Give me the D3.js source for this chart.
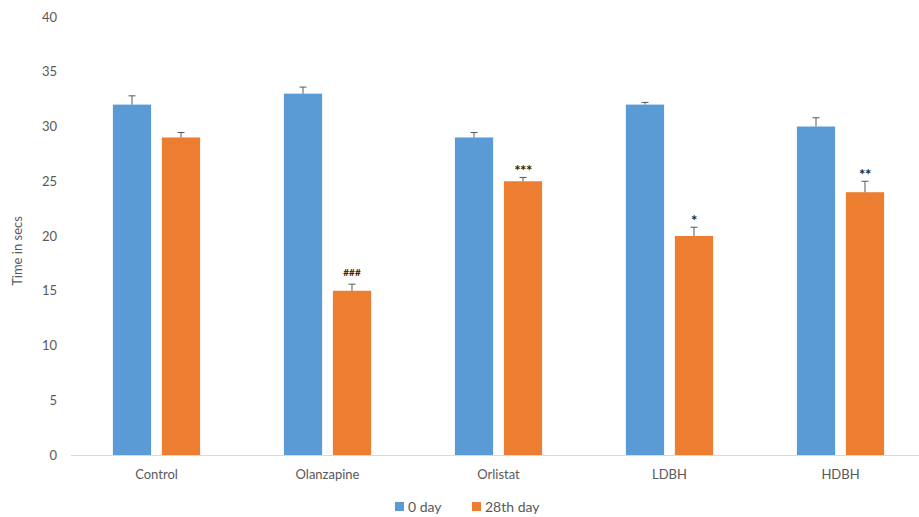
<!DOCTYPE html>
<html>
<head>
<meta charset="utf-8">
<script src="https://cdn.jsdelivr.net/npm/d3@7/dist/d3.min.js"></script>
<style>
  html, body { margin: 0; padding: 0; background: #fff; }
  svg { display: block; font-family: Lato, "Open Sans", sans-serif; }
</style>
</head>
<body>
<svg id="chart" width="919" height="517"></svg>
<script>
// Group labels along the x axis
const groups = ["Control", "Olanzapine", "Orlistat", "LDBH", "HDBH"];
// Series names (legend order)
const seriesNames = ["0 day", "28th day"];
// Mean time (secs) per group
const day0 = [32, 33, 29, 32, 30];
const day28 = [29, 15, 25, 20, 24];
// Upper error (SEM) per group
const day0Err = [0.8, 0.6, 0.45, 0.2, 0.8];
const day28Err = [0.45, 0.6, 0.35, 0.8, 1.0];
// Significance marks over the 28th-day bars
const sigMarks = ["", "###", "***", "*", "**"];
// Y axis ticks
const yTicks = [0, 5, 10, 15, 20, 25, 30, 35, 40];

const colors = { "0 day": "#5B9BD5", "28th day": "#ED7D31" };

const svg = d3.select("#chart");
const plotLeft = 71, plotRight = 926, plotTop = 17, plotBottom = 455;

const y = d3.scaleLinear().domain([0, 40]).range([plotBottom, plotTop]);
const x0 = d3.scaleBand().domain(groups).range([plotLeft, plotRight])
  .paddingInner(0.49).paddingOuter(0.245);
const x1 = d3.scaleBand().domain(seriesNames).range([0, x0.bandwidth()])
  .paddingInner(0.22).paddingOuter(0);

const rows = groups.map((g, i) => ({
  group: g,
  values: [
    { key: "0 day", value: day0[i], err: day0Err[i] },
    { key: "28th day", value: day28[i], err: day28Err[i], sig: sigMarks[i] }
  ]
}));

// Y axis tick labels (no axis line, no gridlines)
const yAxis = d3.axisLeft(y).tickValues(yTicks).tickSize(0).tickPadding(0);
const yG = svg.append("g").attr("transform", `translate(57,0)`).call(yAxis);
yG.select(".domain").remove();
yG.selectAll("text").attr("fill", "#595959").style("font-size", "13px")
  .style("font-family", "Lato, 'Open Sans', sans-serif");

// Baseline
svg.append("line")
  .attr("x1", plotLeft).attr("x2", 919)
  .attr("y1", y(0) + 0.5).attr("y2", y(0) + 0.5)
  .attr("stroke", "#d9d9d9").attr("stroke-width", 1);

// X axis category labels
const xAxis = d3.axisBottom(x0).tickSize(0).tickPadding(15);
const xG = svg.append("g").attr("transform", `translate(0,${y(0)})`).call(xAxis);
xG.select(".domain").remove();
xG.selectAll("text").attr("fill", "#595959").style("font-size", "13px")
  .style("font-family", "Lato, 'Open Sans', sans-serif");

// Bars
const gGroups = svg.append("g").selectAll("g").data(rows).join("g")
  .attr("transform", d => `translate(${x0(d.group)},0)`);

gGroups.selectAll("rect").data(d => d.values).join("rect")
  .attr("x", d => x1(d.key))
  .attr("y", d => y(d.value))
  .attr("width", x1.bandwidth())
  .attr("height", d => y(0) - y(d.value))
  .attr("fill", d => colors[d.key]);

// Error bars (upper only, with cap)
const eb = gGroups.selectAll("g.err").data(d => d.values).join("g").attr("class", "err");
eb.append("line")
  .attr("x1", d => x1(d.key) + x1.bandwidth() / 2)
  .attr("x2", d => x1(d.key) + x1.bandwidth() / 2)
  .attr("y1", d => y(d.value))
  .attr("y2", d => y(d.value + d.err))
  .attr("stroke", "#595959").attr("stroke-width", 1);
eb.append("line")
  .attr("x1", d => x1(d.key) + x1.bandwidth() / 2 - 3.5)
  .attr("x2", d => x1(d.key) + x1.bandwidth() / 2 + 3.5)
  .attr("y1", d => y(d.value + d.err))
  .attr("y2", d => y(d.value + d.err))
  .attr("stroke", "#595959").attr("stroke-width", 1);

// Significance labels: asterisks drawn larger so they read as centred dots
gGroups.selectAll("text.sig").data(d => d.values.filter(v => v.sig)).join("text")
  .attr("class", "sig")
  .attr("x", d => x1(d.key) + x1.bandwidth() / 2)
  .attr("y", d => y(d.value + d.err) - (d.sig.startsWith("*") ? 1 : 8))
  .attr("text-anchor", "middle")
  .attr("fill", "#262626")
  .style("font-size", d => d.sig.startsWith("*") ? "15px" : "10px")
  .style("font-weight", "bold")
  .style("letter-spacing", d => d.sig.startsWith("*") ? "-0.5px" : "0px")
  .text(d => d.sig);

// Y axis title
svg.append("text")
  .attr("transform", `translate(22,${(plotTop + plotBottom) / 2 + 15}) rotate(-90)`)
  .attr("text-anchor", "middle")
  .attr("fill", "#595959")
  .style("font-size", "13px")
  .text("Time in secs");

// Legend
const legend = svg.append("g").attr("transform", "translate(395,507)");
const legendItems = legend.selectAll("g").data(seriesNames).join("g")
  .attr("transform", (d, i) => `translate(${i * 77},0)`);
legendItems.append("rect")
  .attr("x", 0).attr("y", -5).attr("width", 9).attr("height", 9)
  .attr("fill", d => colors[d]);
legendItems.append("text")
  .attr("x", 13).attr("y", 0).attr("dy", "0.35em")
  .attr("fill", "#595959")
  .style("font-size", "14px")
  .text(d => d);
</script>
</body>
</html>
